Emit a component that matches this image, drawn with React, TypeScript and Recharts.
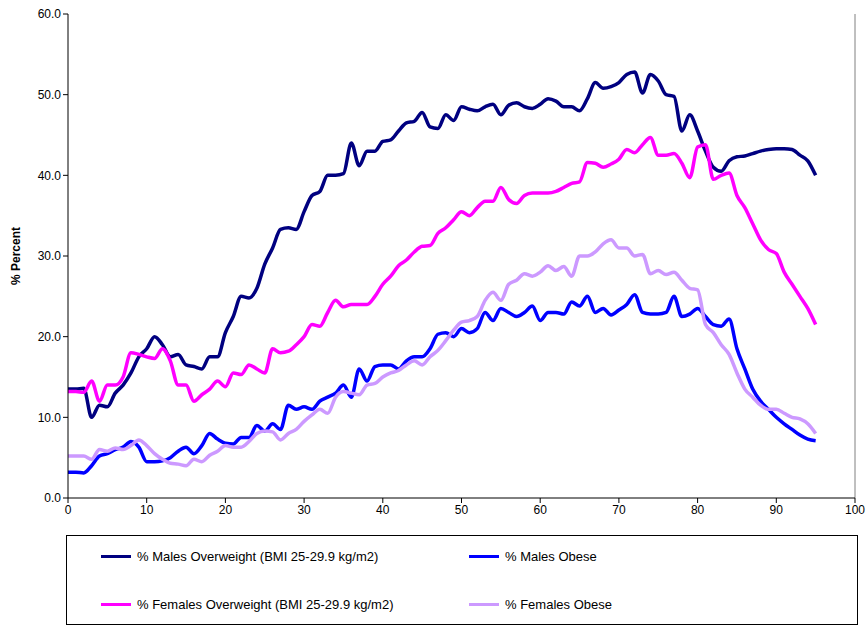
import { LineChart, Line, XAxis, YAxis, ReferenceLine } from "recharts";

const ages = Array.from({ length: 96 }, (_, i) => i);

const malesOverweight = [
  13.5, 13.5, 13.6, 10.0, 11.5, 11.3, 13.0, 14.0, 15.5, 17.5,
  18.5, 20.0, 19.0, 17.5, 17.8, 16.5, 16.3, 16.0, 17.5, 17.5,
  20.5, 22.5, 25.0, 24.8, 26.0, 29.0, 31.0, 33.3, 33.5, 33.3,
  35.5, 37.5, 38.0, 40.0, 40.0, 40.2, 44.0, 41.2, 43.0, 43.0,
  44.2, 44.4, 45.5, 46.5, 46.7, 47.8, 46.0, 45.8, 47.5, 46.8,
  48.5, 48.2, 48.0, 48.5, 48.8, 47.5, 48.7, 49.0, 48.5, 48.3,
  48.8, 49.5, 49.2, 48.5, 48.5, 48.0, 49.5, 51.5, 50.8, 51.0,
  51.5, 52.5, 52.8, 50.2, 52.5, 51.7, 50.0, 49.8, 45.5, 47.5,
  45.5, 43.0, 41.0, 40.5, 41.8, 42.3, 42.4, 42.7, 43.0, 43.2,
  43.3, 43.3, 43.2, 42.5, 41.8, 40.0,
];

const femalesOverweight = [
  13.2, 13.2, 13.1, 14.5, 12.0, 14.0, 14.0, 15.0, 18.0, 17.8,
  17.5, 17.3, 18.5, 17.0, 14.0, 14.0, 12.0, 12.8, 13.5, 14.5,
  13.8, 15.5, 15.3, 16.5, 16.0, 15.5, 18.5, 18.0, 18.2, 19.0,
  20.0, 21.5, 21.3, 23.0, 24.5, 23.7, 24.0, 24.0, 24.0, 25.0,
  26.5, 27.5, 28.8, 29.5, 30.5, 31.2, 31.3, 32.8, 33.5, 34.5,
  35.5, 35.0, 36.0, 36.8, 36.8, 38.5, 37.0, 36.5, 37.5, 37.8,
  37.8, 37.8, 38.0, 38.5, 39.0, 39.2, 41.6, 41.5, 41.0, 41.4,
  42.0, 43.2, 42.8, 43.8, 44.7, 42.5, 42.5, 42.7, 41.5, 39.7,
  43.5, 43.8, 39.5, 40.0, 40.3, 37.5, 36.0, 34.0, 32.0, 30.8,
  30.3, 28.0, 26.5, 25.0, 23.5, 21.5,
];

const malesObese = [
  3.2, 3.2, 3.1, 4.0, 5.2, 5.5, 6.0, 6.3, 7.0, 6.3,
  4.5, 4.5, 4.6, 5.0, 5.8, 6.3, 5.5, 6.5, 8.0, 7.3,
  6.8, 6.7, 7.5, 7.5, 9.0, 8.3, 9.2, 8.5, 11.5, 11.0,
  11.3, 11.0, 12.0, 12.5, 13.0, 14.0, 12.5, 16.0, 14.5, 16.3,
  16.5, 16.5, 16.0, 17.0, 17.5, 17.5, 18.5, 20.3, 20.5, 20.0,
  21.0, 20.5, 21.0, 23.0, 22.0, 23.5, 23.0, 22.5, 23.0, 23.8,
  22.0, 23.0, 23.0, 22.8, 24.3, 23.8, 25.0, 23.0, 23.5, 22.7,
  23.3, 24.0, 25.2, 23.0, 22.8, 22.8, 23.0, 25.0, 22.5, 22.8,
  23.5, 22.5, 21.5, 21.3, 22.2, 18.5, 16.0, 13.5, 12.0, 11.0,
  10.0, 9.2, 8.5, 7.8, 7.3, 7.1,
];

const femalesObese = [
  5.2, 5.2, 5.2, 4.8, 6.0, 5.8, 6.2, 6.0, 6.5, 7.2,
  6.5, 5.5, 4.8, 4.3, 4.2, 4.0, 4.8, 4.5, 5.3, 5.8,
  6.5, 6.3, 6.3, 7.0, 8.0, 8.3, 8.2, 7.2, 8.0, 8.5,
  9.5, 10.3, 11.0, 10.5, 12.5, 13.2, 13.0, 12.8, 14.0, 14.2,
  15.0, 15.5, 15.8, 16.5, 17.0, 16.5, 17.5, 18.3, 19.5, 20.8,
  21.8, 22.0, 22.5, 24.5, 25.5, 24.5, 26.5, 27.0, 27.8, 27.5,
  28.0, 28.8, 28.2, 28.7, 27.5, 30.0, 30.0, 30.5, 31.5, 32.0,
  31.0, 31.0, 30.0, 30.2, 27.8, 28.2, 27.7, 28.0, 27.0, 26.0,
  25.8, 21.5, 20.5, 19.0, 17.8, 15.5, 13.5, 12.5, 11.5, 11.0,
  11.0, 10.5, 10.0, 9.8, 9.2, 8.0,
];

const xTicks = [0, 10, 20, 30, 40, 50, 60, 70, 80, 90, 100];
const yTicks = [0, 10, 20, 30, 40, 50, 60];

const series = [
  { key: "mo", name: "% Males Overweight (BMI 25-29.9 kg/m2)", color: "#000080" },
  { key: "mob", name: "% Males Obese", color: "#0000ff" },
  { key: "fo", name: "% Females Overweight (BMI 25-29.9 kg/m2)", color: "#ff00ff" },
  { key: "fob", name: "% Females Obese", color: "#cc99ff" },
];

const data = ages.map((age, i) => ({
  age,
  mo: malesOverweight[i],
  fo: femalesOverweight[i],
  mob: malesObese[i],
  fob: femalesObese[i],
}));

const font = "'Liberation Sans', Arial, sans-serif";

export default function App() {
  return (
    <div style={{ position: "absolute", left: 0, top: 0, width: 868, height: 625, background: "#fff", fontFamily: font }}>
      <LineChart
        width={868}
        height={625}
        data={data}
        margin={{ top: 14, right: 13, left: 8, bottom: 107 }}
      >
        <XAxis
          dataKey="age"
          type="number"
          domain={[0, 100]}
          ticks={xTicks}
          interval={0}
          stroke="#000"
          tick={{ fill: "#000", fontSize: 12, fontFamily: font }}
          tickSize={5}
          height={20}
        />
        <YAxis
          type="number"
          domain={[0, 60]}
          ticks={yTicks}
          interval={0}
          stroke="#000"
          tickFormatter={(v: number) => v.toFixed(1)}
          tick={{ fill: "#000", fontSize: 12, fontFamily: font }}
          tickSize={5}
          width={60}
          label={{
            value: "% Percent",
            angle: -90,
            position: "insideLeft",
            offset: 8,
            style: { fontWeight: "bold", fontSize: 12, fill: "#000", fontFamily: font, textAnchor: "middle" },
          }}
        />
        <ReferenceLine x={100} stroke="#808080" />
        {series.map((s) => (
          <Line
            key={s.key}
            dataKey={s.key}
            name={s.name}
            type="monotone"
            stroke={s.color}
            strokeWidth={3.5}
            dot={false}
            isAnimationActive={false}
          />
        ))}
      </LineChart>
      <div
        style={{
          position: "absolute",
          left: 66,
          top: 535,
          width: 792,
          height: 90,
          border: "1px solid #000",
          boxSizing: "border-box",
          fontSize: 13,
          color: "#000",
        }}
      >
        {series.map((s, i) => (
          <div
            key={s.key}
            style={{
              position: "absolute",
              left: i % 2 === 0 ? 34 : 402,
              top: i < 2 ? 13 : 61,
              display: "flex",
              alignItems: "center",
              whiteSpace: "nowrap",
            }}
          >
            <span style={{ display: "inline-block", width: 30, height: 3.5, background: s.color, marginRight: 6 }} />
            {s.name}
          </div>
        ))}
      </div>
    </div>
  );
}
